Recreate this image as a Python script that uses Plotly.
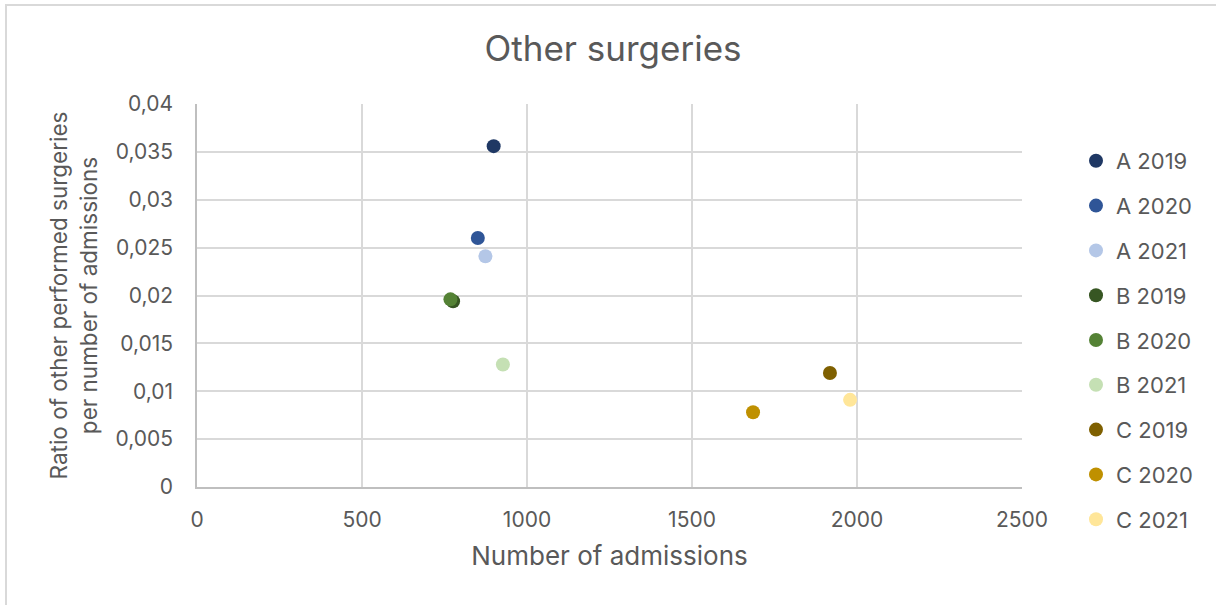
import plotly.graph_objects as go

# Series: hospital + year, admissions (x) and ratio of other surgeries (y)
series_names = ["A 2019", "A 2020", "A 2021",
                "B 2019", "B 2020", "B 2021",
                "C 2019", "C 2020", "C 2021"]
admissions = [899, 851, 874, 776, 768, 927, 1918, 1685, 1979]
ratio = [0.0356, 0.0260, 0.0241, 0.0194, 0.0196, 0.0128, 0.0119, 0.0078, 0.0091]
colors = ["#1F3864", "#2F5597", "#B4C7E7",
          "#375623", "#548235", "#C5E0B4",
          "#7F6000", "#BF9000", "#FFE699"]

x_ticks = [0, 500, 1000, 1500, 2000, 2500]
x_tick_text = ["0", "500", "1000", "1500", "2000", "2500"]
y_ticks = [0, 0.005, 0.01, 0.015, 0.02, 0.025, 0.03, 0.035, 0.04]
y_tick_text = ["0", "0,005", "0,01", "0,015", "0,02", "0,025", "0,03", "0,035", "0,04"]

W, H = 1216, 605
ML, MR, MT, MB = 197, 194, 104, 118
PW, PH = W - ML - MR, H - MT - MB

FONT = "Inter"
GRAY = "#595959"

fig = go.Figure()
for name, xv, yv, c in zip(series_names, admissions, ratio, colors):
    fig.add_trace(go.Scatter(
        x=[xv], y=[yv], mode="markers", name=name, legendgroup=name,
        marker=dict(color=c, size=14, line=dict(width=0)),
    ))

# Outer chart border (left and top visible)
fig.add_shape(type="rect", xref="paper", yref="paper",
              x0=(6 - ML) / PW, x1=2.0,
              y0=-1.0, y1=(H - MB - 5) / PH,
              line=dict(color="#D9D9D9", width=2), fillcolor="rgba(0,0,0,0)",
              layer="below")

fig.update_layout(
    width=W, height=H,
    margin=dict(l=ML, r=MR, t=MT, b=MB),
    paper_bgcolor="white", plot_bgcolor="white",
    font=dict(family=FONT, color=GRAY, size=21),
    title=dict(text="Other surgeries", x=(613 - ML) / PW, xref="paper",
               xanchor="center", y=1 - 49 / H, yanchor="middle",
               font=dict(size=35, color=GRAY, family=FONT)),
    xaxis=dict(range=[0, 2500], tickvals=x_ticks, ticktext=x_tick_text,
               showgrid=True, gridcolor="#D9D9D9", gridwidth=1.5,
               showline=True, linecolor="#BFBFBF", linewidth=1.5,
               zeroline=False, ticks="", ticklen=0, ticklabelstandoff=13,
               tickfont=dict(size=21, color=GRAY),
               title=dict(text="Number of admissions", standoff=16,
                          font=dict(size=26, color=GRAY))),
    yaxis=dict(range=[0, 0.04], tickvals=y_ticks, ticktext=y_tick_text,
               showgrid=True, gridcolor="#D9D9D9", gridwidth=1.5,
               showline=True, linecolor="#BFBFBF", linewidth=1.5,
               zeroline=False, ticks="", ticklen=0, ticklabelstandoff=18,
               tickfont=dict(size=21, color=GRAY),
               title=dict(text="Ratio of other performed surgeries<br>per number of admissions",
                          standoff=12, font=dict(size=22.5, color=GRAY))),
    legend=dict(x=(1076 - ML) / PW, xanchor="left",
                y=(H - MB - 140) / PH, yanchor="top",
                font=dict(size=22, color=GRAY), maxheight=600,
                tracegroupgap=13.2, bgcolor="rgba(0,0,0,0)"),
    showlegend=True,
)

fig.write_html("out.html")
